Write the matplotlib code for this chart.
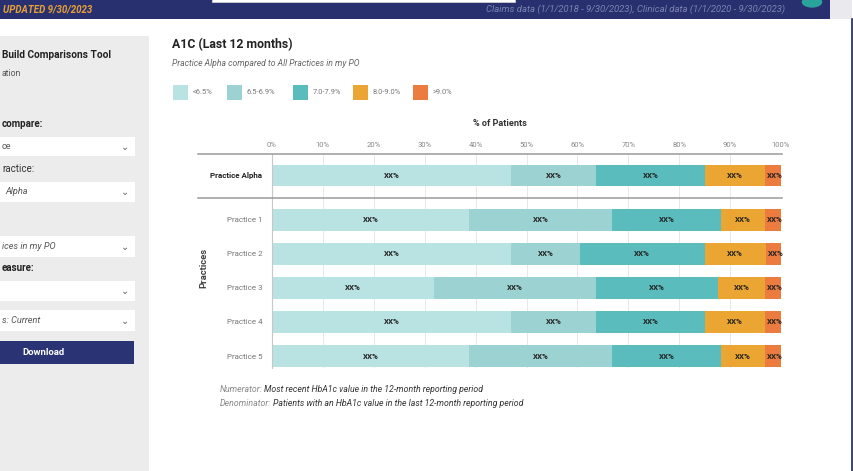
import matplotlib
matplotlib.use("Agg")
import matplotlib.pyplot as plt
import numpy as np
from matplotlib.patches import Rectangle, Circle
from matplotlib.lines import Line2D

plt.rcParams['font.family'] = ['Roboto', 'DejaVu Sans']

# data (% of patients per A1C band)
practices = ["Practice Alpha", "Practice 1", "Practice 2", "Practice 3", "Practice 4", "Practice 5"]
bands = ["<6.5%", "6.5-6.9%", "7.0-7.9%", "8.0-9.0%", ">9.0%"]
lt65 = [47.0, 38.7, 47.0, 31.8, 47.0, 38.7]
r6569 = [16.7, 28.1, 13.5, 31.9, 16.7, 28.1]
r7079 = [21.3, 21.4, 24.5, 23.9, 21.3, 21.4]
r8090 = [11.9, 8.7, 12.0, 9.3, 11.9, 8.7]
gt90 = [3.1, 3.1, 3.0, 3.1, 3.1, 3.1]
xticks = [0, 10, 20, 30, 40, 50, 60, 70, 80, 90, 100]

colors = ["#b9e2e3", "#9dd2d3", "#5bbcbd", "#eba532", "#ec7b3f"]
rows = [0, 1.3, 2.3, 3.3, 4.3, 5.3]

W, H = 854, 471
fig = plt.figure(figsize=(W / 100, H / 100), dpi=100)
fig.patch.set_facecolor("white")


def fx(x):
    return x / W


def fy(y):
    return 1 - y / H


def rect(x0, y0, x1, y1, **kw):
    fig.add_artist(Rectangle((fx(x0), fy(y1)), fx(x1) - fx(x0), fy(y0) - fy(y1),
                             transform=fig.transFigure, **kw))


def txt(x, y, s, **kw):
    fig.text(fx(x), fy(y), s, **kw)


# header bar
rect(0, 0, 830, 19, facecolor="#283070", edgecolor="none")
rect(830, 0, 852, 19, facecolor="#e9e9ee", edgecolor="none")
rect(212, -5, 515, 2, facecolor="white", edgecolor="#cfcfcf", lw=0.6)
txt(3, 9.5, "UPDATED 9/30/2023", color="#e6a03a", fontsize=7, fontweight="bold",
    style="italic", va="center")
txt(785, 9.5, "Claims data (1/1/2018 - 9/30/2023), Clinical data (1/1/2020 - 9/30/2023)",
    color="#7d84b0", fontsize=6.8, style="italic", va="center", ha="right")
fig.add_artist(Circle((fx(812), fy(2)), 0.012, transform=fig.transFigure,
                      facecolor="#2aa39a", edgecolor="none"))
fig.add_artist(Line2D([fx(852), fx(852)], [fy(19), 0], transform=fig.transFigure,
                      color="#1e2450", lw=1.2))

# left control panel
rect(0, 36, 149, 471, facecolor="#ececec", edgecolor="none")
txt(2, 55, "Build Comparisons Tool", fontsize=7.3, fontweight="bold", color="#222", va="center")
txt(2, 74, "ation", fontsize=6.2, color="#555", va="center")
txt(2, 124, "compare:", fontsize=7, fontweight="bold", color="#222", va="center")
txt(2, 169, "ractice:", fontsize=7, color="#333", va="center")
txt(2, 268, "easure:", fontsize=7, fontweight="bold", color="#222", va="center")
boxes = [(137, 156, "ce"), (182, 202, "Alpha"), (236, 257, "ices in my PO"),
         (281, 301, ""), (310, 331, "s: Current")]
for y0, y1, s in boxes:
    rect(0, y0, 135, y1, facecolor="white", edgecolor="none")
    txt(2 if s != "Alpha" else 5, (y0 + y1) / 2, s, fontsize=6.6, color="#555",
        style="italic" if s not in ("ce", "") else "normal", va="center")
    txt(125, (y0 + y1) / 2, "\u2304", fontsize=7, color="#666", va="center", ha="center")
rect(0, 341, 134, 364, facecolor="#2a3475", edgecolor="none")
txt(43, 352.5, "Download", fontsize=6.8, fontweight="bold", color="white", va="center", ha="center")

# chart titles and legend
txt(172, 45, "A1C (Last 12 months)", fontsize=8.8, fontweight="bold", color="#222", va="center")
txt(172, 64, "Practice Alpha compared to All Practices in my PO", fontsize=6.2,
    style="italic", color="#666", va="center")
leg_x = [173, 227, 293, 353, 413]
for lx, c, lab in zip(leg_x, colors, bands):
    rect(lx, 85, lx + 15, 100, facecolor=c, edgecolor="none")
    txt(lx + 20, 92, lab, fontsize=5.4, color="#777", va="center")

# stacked bars
ax = fig.add_axes([fx(272), fy(368), fx(781) - fx(272), fy(154) - fy(368)])
series = [lt65, r6569, r7079, r8090, gt90]
left = np.zeros(len(practices))
for vals, c in zip(series, colors):
    vals = np.array(vals)
    ax.barh(rows, vals, left=left, height=0.64, color=c, edgecolor="none", zorder=2)
    for r, l, v in zip(rows, left, vals):
        ax.text(l + v / 2 + (0.4 if v < 5 else 0), r, "XX%", ha="center", va="center",
                fontsize=5.7, fontweight="bold", color="#222", zorder=3)
    left += vals

ax.set_xlim(0, 100)
ax.set_ylim(5.65, -0.63)
ax.xaxis.tick_top()
ax.set_xticks(xticks)
ax.set_xticklabels([f"{t}%" for t in xticks], fontsize=5.5, color="#888")
ax.tick_params(axis="x", length=0, pad=4.5)
ax.set_yticks(rows)
ax.set_yticklabels(practices, fontsize=5.8, color="#777")
ax.tick_params(axis="y", length=0, pad=7)
ax.get_yticklabels()[0].set_fontweight("bold")
ax.get_yticklabels()[0].set_color("#222")
ax.grid(axis="x", color="#e8e8e8", lw=0.7, zorder=0)
for s in ["top", "right", "bottom"]:
    ax.spines[s].set_visible(False)
ax.spines["left"].set_color("#c8c8c8")
ax.spines["left"].set_linewidth(0.8)

# horizontal rules across the table
for yy in (154, 198):
    fig.add_artist(Line2D([fx(198), fx(782)], [fy(yy), fy(yy)], transform=fig.transFigure,
                          color="#9a9a9a", lw=1.1))

txt(500, 124, "% of Patients", fontsize=6.6, fontweight="bold", color="#333", ha="center", va="center")
txt(204, 268, "Practices", fontsize=6.8, fontweight="bold", color="#444", ha="center",
    va="center", rotation=90)

# footnotes
txt(220, 390, "Numerator:", fontsize=6.3, style="italic", color="#888", va="center")
txt(264, 390, "Most recent HbA1c value in the 12-month reporting period", fontsize=6.3,
    style="italic", color="#333", va="center")
txt(220, 403, "Denominator:", fontsize=6.3, style="italic", color="#888", va="center")
txt(273, 403, "Patients with an HbA1c value in the last 12-month reporting period", fontsize=6.3,
    style="italic", color="#333", va="center")

fig.savefig("out.png", dpi=100)
